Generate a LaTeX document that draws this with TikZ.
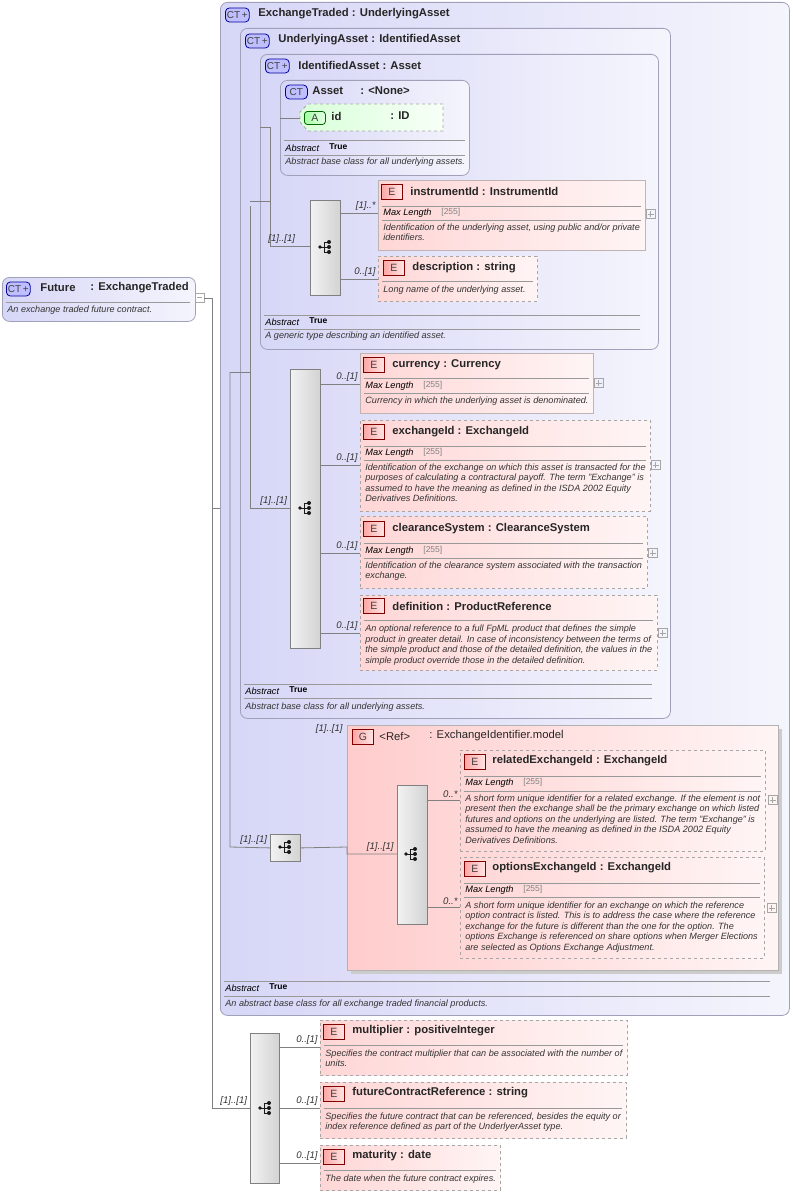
\documentclass[tikz,border=0pt]{standalone}
\usepackage{fontspec}
\setmainfont{Liberation Sans}
\begin{document}
\begin{tikzpicture}[x=1pt,y=-1pt, line width=0.8pt]
\definecolor{ctc}{HTML}{D6D6F7}
\definecolor{ctb}{HTML}{A0A0B8}
\definecolor{elc}{HTML}{FFD6D6}
\definecolor{elb}{HTML}{B0A0A0}
\definecolor{ln}{HTML}{808080}
\tikzset{
 ct/.style={draw=ctb,rounded corners=7pt,left color=ctc,right color=ctc!25,anchor=north west,inner sep=0pt},
 el/.style={draw=elb!80,left color=elc,right color=elc!25,anchor=north west,inner sep=0pt},
 eld/.style={el,dashed,draw=gray!70},
 seq/.style={draw=gray,left color=gray!10,right color=gray!35,anchor=north west,inner sep=0pt},
 sep/.style={draw=gray!80,line width=0.6pt},
 con/.style={draw=ln,line width=0.8pt},
 ttl/.style={anchor=west,font=\fontsize{11.3}{13}\selectfont\bfseries,inner sep=0pt,text=black!85},
 tnb/.style={anchor=west,font=\fontsize{11.3}{13}\selectfont,inner sep=0pt,text=black!85},
 doc/.style={anchor=north west,font=\fontsize{9.1}{10.5}\selectfont\itshape,inner sep=0pt,align=left,text=black!80},
 lab/.style={font=\fontsize{9.6}{10}\selectfont\itshape,inner sep=0pt,text=black!80},
 mlk/.style={anchor=west,font=\fontsize{9.2}{10}\selectfont\itshape,inner sep=0pt},
 mlv/.style={anchor=west,font=\fontsize{8.5}{10}\selectfont,inner sep=0pt,text=gray},
}
\useasboundingbox (0,0) rectangle (792,1196);
\newcommand\bdg[4]{\node[draw=#4!60!black,fill=#4!25,rounded corners=4pt,minimum width=22pt,minimum height=14pt,inner sep=1.5pt,anchor=west,font=\fontsize{10}{11}\selectfont,text=black!75] at (#1,#2) {#3};}
\newcommand\ebdg[3]{\node[draw=red!50!black,left color=red!35,right color=red!10,minimum width=21pt,minimum height=15pt,inner sep=0pt,anchor=west,font=\fontsize{10.5}{11}\selectfont,text=black!75] at (#1,#2) {#3};}
\newcommand\hl[3]{\draw[sep] (#1,#3) -- (#2,#3);}
\newcommand\ml[2]{\node[mlk] at (#1,#2) {Max Length}; \node[mlv] at (#1+58,#2-1) {[255]};}
\newcommand\plus[2]{\draw[gray!70,line width=0.5pt] (#1,#2-4.5) rectangle (#1+9,#2+4.5) (#1+1.5,#2) -- (#1+7.5,#2) (#1+4.5,#2-3) -- (#1+4.5,#2+3);}
\newcommand\abst[2]{\node[mlk] at (#1,#2) {Abstract}; \node[anchor=west,font=\fontsize{8.5}{10}\selectfont\bfseries,inner sep=0pt] at (#1+44,#2-1) {True};}
\newcommand\sic[2]{\begin{scope}[shift={(#1,#2)},gray!20!black,line width=0.8pt]
 \fill (-6,0) circle (1.8); \draw (-6,0) -- (-2,0) (-2,-5) -- (-2,5) (-2,-5)--(3,-5) (-2,0)--(3,0) (-2,5)--(3,5);
 \fill (3,-5) circle (2) (3,0) circle (2) (3,5) circle (2);\end{scope}}

% Future
\node[ct,minimum width=193pt,minimum height=44pt] (fut) at (2,277) {};
\bdg{6}{289}{CT\,+}{blue}
\node[ttl] at (40,288) {Future};
\node[ttl] at (90,288) {: ExchangeTraded};
\hl{6}{190}{302}
\node[doc] at (7,306) {An exchange traded future contract.};
\draw[gray!70,line width=0.5pt] (195,293) rectangle (204,302) (197,297.5)--(202,297.5);

% ExchangeTraded
\node[ct,minimum width=569pt,minimum height=1013pt] (et) at (220,2) {};
\bdg{225}{15}{CT\,+}{blue}
\node[ttl] at (258,14) {ExchangeTraded : UnderlyingAsset};
\hl{224}{770}{981}\abst{225}{988}\hl{224}{770}{996}
\node[doc] at (225,999) {An abstract base class for all exchange traded financial products.};

% UnderlyingAsset
\node[ct,minimum width=430pt,minimum height=690pt] (ua) at (240,28) {};
\bdg{245}{41}{CT\,+}{blue}
\node[ttl] at (278,40) {UnderlyingAsset : IdentifiedAsset};
\hl{244}{652}{684}\abst{245}{691}\hl{244}{652}{698}
\node[doc] at (245,702) {Abstract base class for all underlying assets.};

% IdentifiedAsset
\node[ct,minimum width=398pt,minimum height=295pt] (ia) at (260,54) {};
\bdg{265}{66}{CT\,+}{blue}
\node[ttl] at (298,65) {IdentifiedAsset : Asset};
\hl{264}{640}{315}\abst{265}{322}\hl{264}{640}{329}
\node[doc] at (265,332) {A generic type describing an identified asset.};

% Asset
\node[ct,minimum width=189pt,minimum height=95pt] (as) at (280,80) {};
\bdg{285}{92}{CT}{blue}
\node[ttl] at (312,91) {Asset};
\node[ttl] at (360,91) {: <None>};
\draw[dashed,draw=gray!70,left color=green!15,right color=green!3] (308,104) -- (443,104) -- (443,131) -- (308,131) -- (300,122) -- (300,112) -- cycle;
\node (idA) [draw=green!40!black,left color=green!35,right color=green!10,rounded corners=3pt,minimum width=21pt,minimum height=13pt,inner sep=0pt,anchor=west,font=\fontsize{10.5}{11}\selectfont,text=black!75] at (304,118) {A};
\node[ttl] at (331,116) {id};
\node[ttl] at (390,116) {: ID};
\draw[con] (280,118) -- (300,118);
\hl{284}{465}{140}\abst{285}{148}\hl{284}{465}{155}
\node[doc] at (285,158) {Abstract base class for all underlying assets.};

% seq1
\node[seq,minimum width=30pt,minimum height=95pt] (s1) at (310,200) {};\sic{326}{247}
\node[el,minimum width=267pt,minimum height=70pt] (inst) at (378,180) {};
\ebdg{381}{192}{E}\node[ttl] at (410,191) {instrumentId : InstrumentId};
\hl{382}{641}{206}\ml{383}{213}\hl{382}{641}{220}
\node[doc] at (383,223.5) {Identification of the underlying asset, using public and/or private\\identifiers.};
\plus{646}{214}
\node[eld,minimum width=159pt,minimum height=45pt] (desc) at (378,256) {};
\ebdg{383}{268}{E}\node[ttl] at (412,268) {description : string};
\hl{382}{533}{281}
\node[doc] at (383,286) {Long name of the underlying asset.};
\draw[con] (s1.east|-0,213) -- (inst.west|-0,213);
\draw[con] (s1.east|-0,279) -- (desc.west|-0,279);
\node[lab,anchor=south east] at (376,211) {[1]..*};
\node[lab,anchor=south east] at (376,277) {0..[1]};
\draw[con] (270,127) -- (ia.west|-0,127) (270,127) -- (270,246) -- (s1.west|-0,246);
\node[lab,anchor=south west] at (268,244) {[1]..[1]};
\draw[con] (250,201) -- (270,201);

% seq2
\node[seq,minimum width=30pt,minimum height=279pt] (s2) at (290,369) {};\sic{306}{508}
\node[el,minimum width=233pt,minimum height=60pt] (cur) at (360,353) {};
\ebdg{363}{365}{E}\node[ttl] at (392,365) {currency : Currency};
\hl{364}{589}{378}\ml{365}{386}\hl{364}{589}{393}
\node[doc] at (365,397) {Currency in which the underlying asset is denominated.};
\plus{594}{383}
\node[eld,minimum width=290pt,minimum height=91pt] (exid) at (360,420) {};
\ebdg{363}{432}{E}\node[ttl] at (392,432) {exchangeId : ExchangeId};
\hl{364}{646}{446}\ml{365}{453}\hl{364}{646}{460}
\node[doc] at (365,463.5) {Identification of the exchange on which this asset is transacted for the\\purposes of calculating a contractural payoff. The term "Exchange" is\\assumed to have the meaning as defined in the ISDA 2002 Equity\\Derivatives Definitions.};
\plus{651}{465}
\node[eld,minimum width=287pt,minimum height=72pt] (clr) at (360,516) {};
\ebdg{363}{529}{E}\node[ttl] at (392,529) {clearanceSystem : ClearanceSystem};
\hl{364}{643}{543}\ml{365}{551}\hl{364}{643}{558}
\node[doc] at (365,561.5) {Identification of the clearance system associated with the transaction\\exchange.};
\plus{648}{553}
\node[eld,minimum width=297pt,minimum height=75pt] (defn) at (360,595) {};
\ebdg{363}{606}{E}\node[ttl] at (392,606) {definition : ProductReference};
\hl{364}{653}{620}
\node[doc] at (365,624.5) {An optional reference to a full FpML product that defines the simple\\product in greater detail. In case of inconsistency between the terms of\\the simple product and those of the detailed definition, the values in the\\simple product override those in the detailed definition.};
\plus{658}{633}
\foreach \n/\y in {cur/384,exid/465,clr/553,defn/633}{
 \draw[con] (s2.east|-0,\y) -- (\n.west|-0,\y);
 \node[lab,anchor=south east] at (358,\y-2) {0..[1]};}
\draw[con] (250,206) -- (250,508) -- (s2.west|-0,508) (230,372) -- (250,372);
\node[lab,anchor=south west] at (260,506) {[1]..[1]};

% group
\fill[gray!40] (351,729) rectangle (782,974);
\node[el,draw=gray!60,minimum width=431pt,minimum height=245pt,left color=red!20,right color=red!4] (grp) at (347,725) {};
\node[lab,anchor=south east] at (343,734) {[1]..[1]};
\ebdg{352}{737}{G}\node[tnb] at (379,736) {<Ref>};
\node[tnb] at (429,736) {: ExchangeIdentifier.model};
\node[seq,minimum width=30pt,minimum height=139pt] (s4) at (397,785) {};\sic{412}{854}
\node[eld,minimum width=305pt,minimum height=101pt] (rel) at (460,750) {};
\ebdg{464}{762}{E}\node[ttl] at (492,761) {relatedExchangeId : ExchangeId};
\hl{464}{761}{776}\ml{465}{783}\hl{464}{761}{791}
\node[doc] at (465,794) {A short form unique identifier for a related exchange. If the element is not\\present then the exchange shall be the primary exchange on which listed\\futures and options on the underlying are listed. The term "Exchange" is\\assumed to have the meaning as defined in the ISDA 2002 Equity\\Derivatives Definitions.};
\plus{768}{800}
\node[eld,minimum width=304pt,minimum height=101pt] (opt) at (460,857) {};
\ebdg{464}{869}{E}\node[ttl] at (492,868) {optionsExchangeId : ExchangeId};
\hl{464}{760}{883}\ml{465}{890}\hl{464}{760}{897}
\node[doc] at (465,901) {A short form unique identifier for an exchange on which the reference\\option contract is listed. This is to address the case where the reference\\exchange for the future is different than the one for the option. The\\options Exchange is referenced on share options when Merger Elections\\are selected as Options Exchange Adjustment.};
\plus{767}{908}
\draw[con] (s4.east|-0,800) -- (rel.west|-0,800) (s4.east|-0,907) -- (opt.west|-0,907);
\node[lab,anchor=south east] at (458,798) {0..*};
\node[lab,anchor=south east] at (458,905) {0..*};
\node[seq,minimum width=30pt,minimum height=27pt] (s3) at (270,834) {};\sic{286}{847}
\draw[con] (s3.east) -- (347,847) -- (347,854) -- (s4.west|-0,854);
\node[lab,anchor=south east] at (394,852) {[1]..[1]};
\draw[con] (230,372) -- (230,847) -- (s3.west);
\node[lab,anchor=south west] at (240,845) {[1]..[1]};

% bottom seq
\node[seq,minimum width=29pt,minimum height=150pt] (s5) at (250,1033) {};\sic{266}{1108}
\node[eld,minimum width=307pt,minimum height=55pt] (mul) at (320,1020) {};
\ebdg{323}{1032}{E}\node[ttl] at (352,1031) {multiplier : positiveInteger};
\hl{324}{623}{1045}
\node[doc] at (325,1049) {Specifies the contract multiplier that can be associated with the number of\\units.};
\node[eld,minimum width=306pt,minimum height=56pt] (fcr) at (320,1082) {};
\ebdg{323}{1094}{E}\node[ttl] at (352,1093) {futureContractReference : string};
\hl{324}{622}{1108}
\node[doc] at (325,1112) {Specifies the future contract that can be referenced, besides the equity or\\index reference defined as part of the UnderlyerAsset type.};
\node[eld,minimum width=180pt,minimum height=45pt] (mat) at (320,1145) {};
\ebdg{323}{1157}{E}\node[ttl] at (352,1156) {maturity : date};
\hl{324}{496}{1170}
\node[doc] at (325,1174) {The date when the future contract expires.};
\foreach \n/\y in {mul/1047,fcr/1108,mat/1163}{
 \draw[con] (s5.east|-0,\y) -- (\n.west|-0,\y);
 \node[lab,anchor=south east] at (318,\y-2) {0..[1]};}
\draw[con] (204,298) -- (212,298) -- (212,1108) -- (s5.west|-0,1108) (212,508) -- (et.west|-0,508);
\node[lab,anchor=south west] at (220,1106) {[1]..[1]};
\end{tikzpicture}
\end{document}
